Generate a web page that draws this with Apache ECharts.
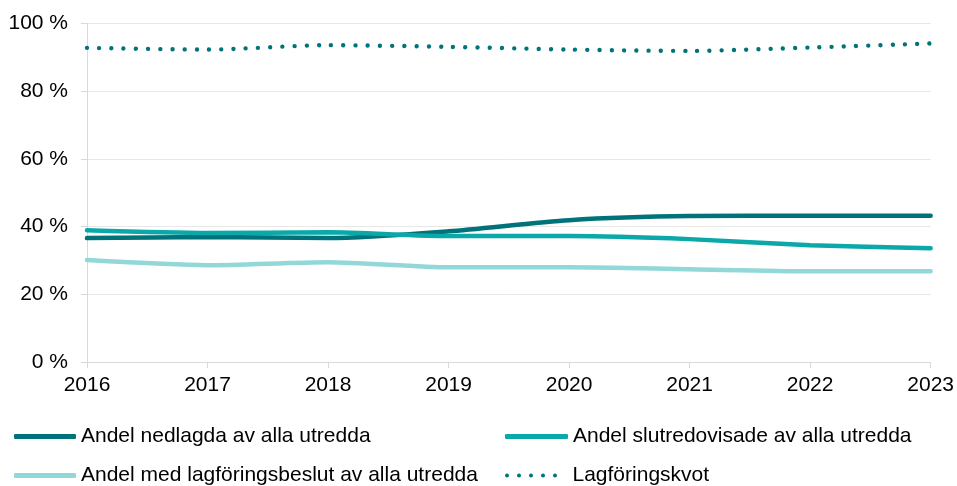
<!DOCTYPE html>
<html>
<head>
<meta charset="utf-8">
<script src="https://cdn.jsdelivr.net/npm/echarts@6/dist/echarts.min.js"></script>
<style>
  html, body { margin: 0; padding: 0; background: #fff; }
  #chart { width: 957px; height: 486px; }
</style>
</head>
<body>
<div id="chart"></div>
<script>
const years = ['2016', '2017', '2018', '2019', '2020', '2021', '2022', '2023'];
const nedlagda = [36.6, 36.9, 36.6, 38.6, 41.9, 43.1, 43.2, 43.2];
const slutredovisade = [38.9, 38.1, 38.3, 37.2, 37.2, 36.3, 34.5, 33.6];
const lagforingsbeslut = [30.1, 28.6, 29.5, 28.0, 28.0, 27.4, 26.8, 26.8];
const lagforingskvot = [92.8, 92.3, 93.6, 93.1, 92.3, 91.9, 92.9, 94.1];

const names = [
    'Andel nedlagda av alla utredda',
    'Andel slutredovisade av alla utredda',
    'Andel med lagföringsbeslut av alla utredda',
    'Lagföringskvot'
];

let myChart = echarts.init(document.getElementById('chart'), null, { renderer: 'canvas' });

const font = 'Liberation Sans, Arial, sans-serif';

// five round dots for the dotted legend key
const dotsIcon = 'path://M0,2a2,2 0 1,0 4,0a2,2 0 1,0 -4,0z' +
    'M12,2a2,2 0 1,0 4,0a2,2 0 1,0 -4,0z' +
    'M24,2a2,2 0 1,0 4,0a2,2 0 1,0 -4,0z' +
    'M36,2a2,2 0 1,0 4,0a2,2 0 1,0 -4,0z' +
    'M48,2a2,2 0 1,0 4,0a2,2 0 1,0 -4,0z';

function legendAt(name, left, top, width, height, icon, textPad) {
    return {
        data: [{ name: name, icon: icon }],
        left: left,
        top: top,
        itemWidth: width,
        itemHeight: height,
        textStyle: { fontFamily: font, fontSize: 21, color: '#000', padding: [0, 0, 0, textPad || 0] },
        selectedMode: false,
        padding: 0
    };
}

let option = {
    animation: false,
    grid: {
        left: 87,
        right: 25,
        top: 23.5,
        bottom: 124
    },
    legend: [
        legendAt(names[0], 14, 426, 62, 5, 'roundRect'),
        legendAt(names[1], 505, 426, 63, 5, 'roundRect'),
        legendAt(names[2], 14, 465, 62, 5, 'roundRect'),
        legendAt(names[3], 505, 465, 53, 4, dotsIcon, 10)
    ],
    xAxis: {
        type: 'category',
        data: years,
        boundaryGap: false,
        axisLine: { lineStyle: { color: '#d9d9d9', width: 1 } },
        axisTick: { show: true, length: 6, alignWithLabel: true, lineStyle: { color: '#d9d9d9' } },
        axisLabel: { color: '#000', fontFamily: font, fontSize: 21, margin: 13 },
        splitLine: { show: false }
    },
    yAxis: {
        type: 'value',
        min: 0,
        max: 100,
        interval: 20,
        axisLine: { show: true, lineStyle: { color: '#d9d9d9', width: 1 } },
        axisTick: { show: true, length: 6, lineStyle: { color: '#d9d9d9' } },
        axisLabel: { color: '#000', fontFamily: font, fontSize: 21, margin: 19, formatter: '{value} %' },
        splitLine: { lineStyle: { color: '#e8e8e8', width: 1 } }
    },
    series: [
        {
            name: names[0],
            type: 'line',
            data: nedlagda,
            smooth: 0.25,
            symbol: 'none',
            lineStyle: { color: '#00727a', width: 4.5, cap: 'round' },
            itemStyle: { color: '#00727a' }
        },
        {
            name: names[1],
            type: 'line',
            data: slutredovisade,
            smooth: 0.25,
            symbol: 'none',
            lineStyle: { color: '#0aa8a8', width: 4.5, cap: 'round' },
            itemStyle: { color: '#0aa8a8' }
        },
        {
            name: names[2],
            type: 'line',
            data: lagforingsbeslut,
            smooth: 0.25,
            symbol: 'none',
            lineStyle: { color: '#93d8d8', width: 4.5, cap: 'round' },
            itemStyle: { color: '#93d8d8' }
        },
        {
            name: names[3],
            type: 'line',
            data: lagforingskvot,
            smooth: 0.25,
            symbol: 'none',
            lineStyle: { color: '#007478', width: 4.4, cap: 'round', type: [0.01, 12.2] },
            itemStyle: { color: '#007478' }
        }
    ]
};
myChart.setOption(option);
</script>
</body>
</html>
